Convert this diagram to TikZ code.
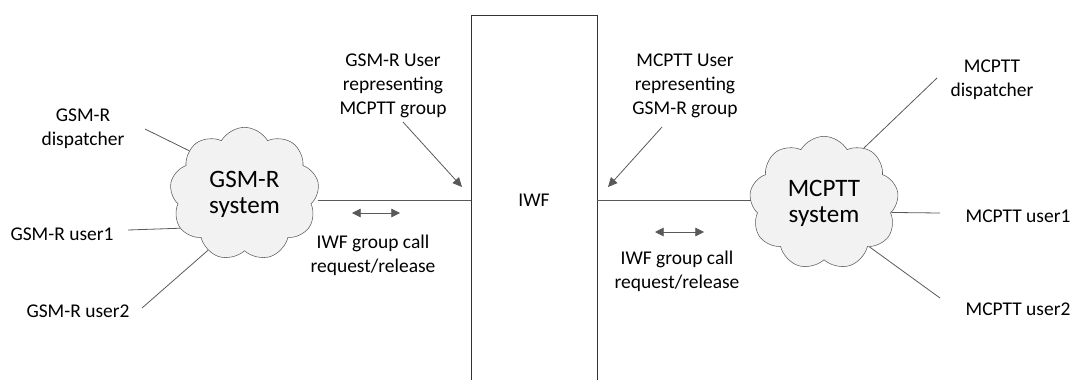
\documentclass[tikz,border=0pt]{standalone}
\usepackage{fontspec}
\setmainfont{Carlito}
\usetikzlibrary{shapes.symbols,arrows.meta}

\definecolor{linegray}{RGB}{89,89,89}
\definecolor{cloudfill}{RGB}{242,242,242}

\begin{document}
\begin{tikzpicture}[x=0.75pt,y=-0.75pt,
    lbl/.style={align=center,inner sep=0pt,font=\fontsize{14.6}{18}\selectfont},
    sys/.style={cloud,cloud puffs=9,cloud puff arc=120,cloud ignores aspect,
      draw=linegray,fill=cloudfill,minimum width=112pt,minimum height=100pt,
      align=center,inner sep=0pt,font=\fontsize{18.8}{19.5}\selectfont},
    wire/.style={draw=linegray,line width=0.6pt},
    tip/.style={-{Triangle[length=7pt,width=6.5pt]}},
    tips/.style={{Triangle[length=6.5pt,width=6.5pt]}-{Triangle[length=6.5pt,width=6.5pt]}}]
    \useasboundingbox (0,0) rectangle (1073,379);

    \node[draw=black!80,line width=0.6pt,minimum width=94.5pt,minimum height=277.5pt,
      inner sep=0pt,font=\fontsize{14.6}{18}\selectfont] (iwf) at (534,200) {IWF};

    \node[sys] (gsmr) at (244.5,194) {GSM-R\\system};
    \node[sys] (mcptt) at (824,203) {MCPTT\\system};

    \node[lbl] (gdisp) at (83,129) {GSM-R\\dispatcher};
    \node[lbl,anchor=base] (guser1) at (62,240) {GSM-R user1};
    \node[lbl,anchor=base] (guser2) at (78,317) {GSM-R user2};
    \node[lbl] (mdisp) at (992,80) {MCPTT\\dispatcher};
    \node[lbl,anchor=base] (muser1) at (1018,222) {MCPTT user1};
    \node[lbl,anchor=base] (muser2) at (1018,315) {MCPTT user2};

    \node[lbl] (grep) at (393,86) {GSM-R User\\representing\\MCPTT group};
    \node[lbl] (mrep) at (685,86) {MCPTT User\\representing\\GSM-R group};
    \node[lbl] (gcall) at (373,255) {IWF group call\\request/release};
    \node[lbl] (mcall) at (677,271) {IWF group call\\request/release};

    \coordinate (gdispend) at (145,129);
    \coordinate (guser1end) at (128,230);
    \coordinate (guser2end) at (142,308);
    \draw[wire] (gdispend) -- (gsmr.142);
    \draw[wire] (guser1end) -- (gsmr.208);
    \draw[wire] (guser2end) -- (gsmr.237);

    \coordinate (mdispend) at (937,78);
    \coordinate (muser1end) at (940,213);
    \coordinate (muser2end) at (940,298);
    \draw[wire] (mdispend) -- (mcptt.54);
    \draw[wire] (muser1end) -- (mcptt.352);
    \draw[wire] (muser2end) -- (mcptt.316);

    \draw[wire] (gsmr.east |- iwf.west) -- (iwf.west);
    \draw[wire] (iwf.east) -- (iwf.east -| mcptt.west);

    \coordinate (grepend) at (403,122);
    \coordinate (grepin) at (462,187);
    \draw[wire,tip] (grepend) -- (grepin);
    \coordinate (mrepend) at (662,127);
    \coordinate (mrepin) at (608,187);
    \draw[wire,tip] (mrepend) -- (mrepin);

    \coordinate (gcalla) at (352,213);
    \coordinate (gcallb) at (400,213);
    \draw[wire,tips] (gcalla) -- (gcallb);
    \coordinate (mcalla) at (655,232);
    \coordinate (mcallb) at (704,232);
    \draw[wire,tips] (mcalla) -- (mcallb);
\end{tikzpicture}
\end{document}
